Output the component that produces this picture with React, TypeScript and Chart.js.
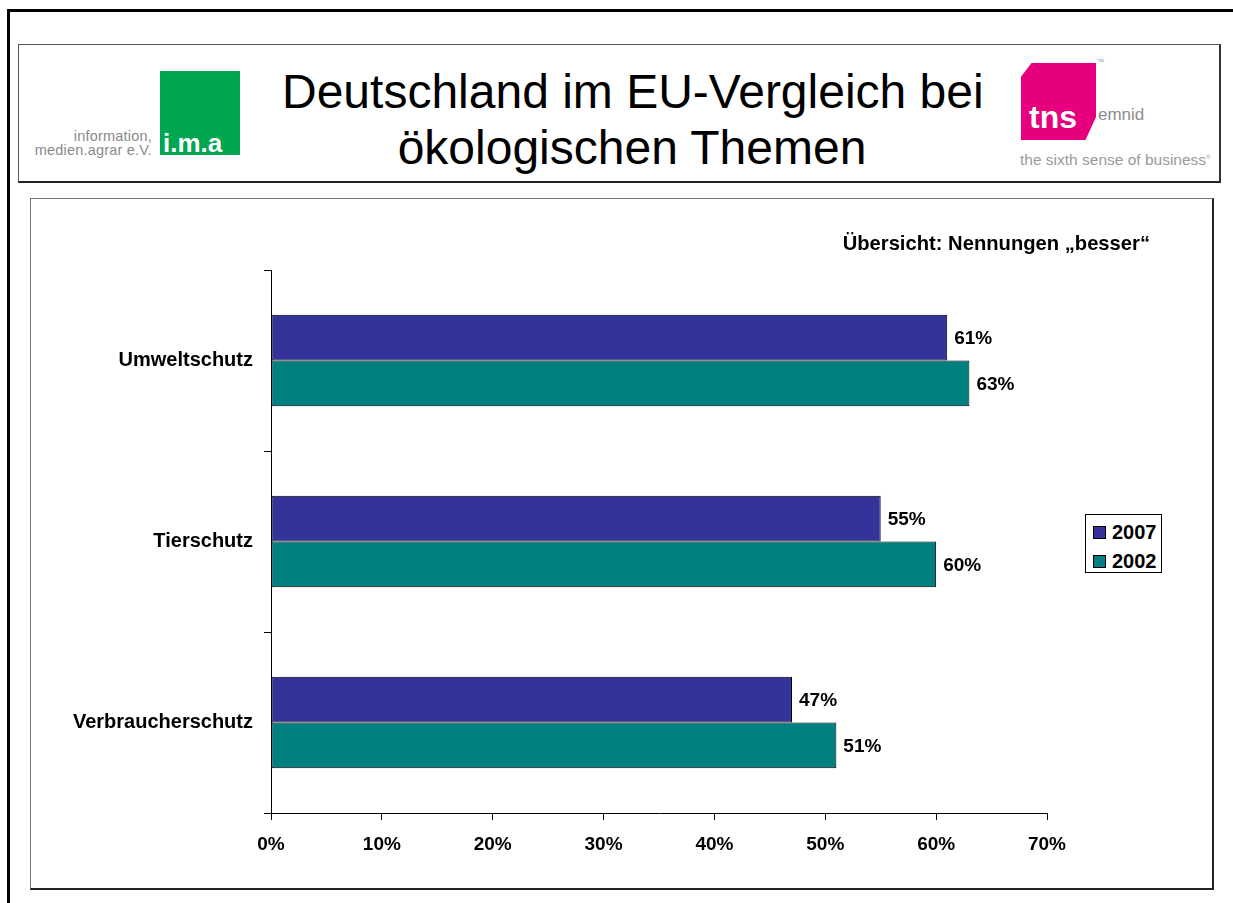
import React, { useEffect, useRef } from "react";
import { Chart, registerables } from "chart.js";

Chart.register(...registerables);

const categories = ["Umweltschutz", "Tierschutz", "Verbraucherschutz"];
const seriesNames = ["2007", "2002"];
const values2007 = [61, 55, 47];
const values2002 = [63, 60, 51];
const seriesColors = ["#333399", "#008080"];
const xTicks = [0, 10, 20, 30, 40, 50, 60, 70];
const titleLines = ["Deutschland im EU-Vergleich bei", "ökologischen Themen"];
const annotation = "Übersicht: Nennungen „besser“";

const FONT = "Arial, 'Liberation Sans', Helvetica, sans-serif";
const LABEL_SIZE = 19;
const CAT_SIZE = 20;

const valueLabels = {
  id: "valueLabels",
  afterDatasetsDraw(chart: any) {
    const ctx = chart.ctx;
    ctx.save();
    ctx.font = `bold ${LABEL_SIZE}px ${FONT}`;
    ctx.fillStyle = "#000";
    ctx.textAlign = "left";
    ctx.textBaseline = "middle";
    chart.data.datasets.forEach((ds: any, di: number) => {
      const meta = chart.getDatasetMeta(di);
      meta.data.forEach((bar: any, i: number) => {
        ctx.fillText(`${ds.data[i]}%`, bar.x + 7, bar.y + 1);
      });
    });
    ctx.restore();
  },
};

function BarChart() {
  const ref = useRef<HTMLCanvasElement | null>(null);
  useEffect(() => {
    if (!ref.current) return;
    const chart = new Chart(ref.current, {
      type: "bar",
      data: {
        labels: categories,
        datasets: [
          {
            label: seriesNames[0],
            data: values2007,
            backgroundColor: seriesColors[0],
            borderColor: "#000",
            borderWidth: 1,
            borderSkipped: false,
            categoryPercentage: 0.505,
            barPercentage: 1.0,
          },
          {
            label: seriesNames[1],
            data: values2002,
            backgroundColor: seriesColors[1],
            borderColor: "#000",
            borderWidth: 1,
            borderSkipped: false,
            categoryPercentage: 0.505,
            barPercentage: 1.0,
          },
        ],
      },
      options: {
        indexAxis: "y",
        responsive: false,
        animation: false,
        devicePixelRatio: 1,
        layout: { padding: { top: 70, right: 164, left: 0, bottom: 0 } },
        plugins: {
          legend: { display: false },
          tooltip: { enabled: false },
          title: { display: false },
        },
        scales: {
          x: {
            type: "linear",
            min: xTicks[0],
            max: xTicks[xTicks.length - 1],
            afterFit(scale: any) {
              scale.height = 75;
            },
            afterBuildTicks(scale: any) {
              scale.ticks = xTicks.map((v) => ({ value: v }));
            },
            ticks: {
              stepSize: 10,
              callback: (v: any) => `${v}%`,
              color: "#000",
              font: { family: FONT, size: LABEL_SIZE, weight: "bold" },
              padding: 13,
              maxRotation: 0,
            },
            grid: {
              drawOnChartArea: false,
              drawTicks: true,
              tickLength: 7,
              color: "#000",
            },
            border: { display: true, color: "#000", width: 1 },
          },
          y: {
            type: "category",
            offset: true,
            afterFit(scale: any) {
              scale.width = 240;
            },
            ticks: {
              color: "#000",
              font: { family: FONT, size: CAT_SIZE, weight: "bold" },
              padding: 11,
            },
            grid: {
              offset: true,
              drawOnChartArea: false,
              drawTicks: true,
              tickLength: 7,
              color: "#000",
            },
            border: { display: true, color: "#000", width: 1 },
          },
        },
      },
      plugins: [valueLabels],
    } as any);
    return () => chart.destroy();
  }, []);
  return (
    <canvas
      ref={ref}
      width={1180}
      height={688}
      style={{ position: "absolute", left: 31, top: 200, width: 1180, height: 688 }}
    />
  );
}

export default function App() {
  return (
    <div
      style={{
        position: "absolute",
        left: 0,
        top: 0,
        width: 1233,
        height: 903,
        background: "#fff",
        overflow: "hidden",
        fontFamily: FONT,
      }}
    >
      {/* outer frame */}
      <div style={{ position: "absolute", left: 7, top: 9, width: 1240, height: 1000, borderLeft: "3px solid #000", borderTop: "3px solid #000" }} />
      {/* header box */}
      <div
        style={{
          position: "absolute",
          left: 18,
          top: 44,
          width: 1200,
          height: 136,
          borderTop: "1px solid #555",
          borderLeft: "1px solid #555",
          borderRight: "2px solid #333",
          borderBottom: "2px solid #222",
        }}
      />
      {/* ima logo */}
      <div style={{ position: "absolute", left: 10, width: 142, top: 129, textAlign: "right", color: "#8a8a8a", fontSize: 14.5, lineHeight: "14px", letterSpacing: 0.2 }}>
        information,
        <br />
        medien.agrar e.V.
      </div>
      <div style={{ position: "absolute", left: 160, top: 71, width: 80, height: 84, background: "#00a650" }}>
        <div style={{ position: "absolute", left: 3, top: 60, color: "#fff", fontSize: 26, fontWeight: "bold", lineHeight: "24px", letterSpacing: 0 }}>i.m.a</div>
      </div>
      {/* title */}
      <div
        style={{
          position: "absolute",
          left: 282,
          width: 700,
          top: 64,
          textAlign: "center",
          fontSize: 48,
          lineHeight: "56px",
          color: "#000",
          whiteSpace: "nowrap",
        }}
      >
        {titleLines[0]}
        <br />
        {titleLines[1]}
      </div>
      {/* tns logo */}
      <div
        style={{
          position: "absolute",
          left: 1021,
          top: 63,
          width: 75,
          height: 77,
          background: "#e6007e",
          clipPath: "polygon(14% 0, 100% 0, 100% 70%, 86% 100%, 0 100%, 0 18%)",
        }}
      />
      <div style={{ position: "absolute", left: 1029, top: 101, color: "#fff", fontSize: 32, fontWeight: "bold", lineHeight: "32px", letterSpacing: 0 }}>tns</div>
      <div style={{ position: "absolute", left: 1098, top: 104, color: "#8c8c8c", fontSize: 17, lineHeight: "22px" }}>emnid</div>
      <div style={{ position: "absolute", left: 1097, top: 58, color: "#999", fontSize: 7, lineHeight: "8px" }}>™</div>
      <div style={{ position: "absolute", left: 1020, top: 148, color: "#9a9a9a", fontSize: 15.5, lineHeight: "18px", whiteSpace: "nowrap" }}>
        the sixth sense of business<sup style={{ fontSize: 6 }}>®</sup>
      </div>
      {/* chart box */}
      <div
        style={{
          position: "absolute",
          left: 30,
          top: 198,
          width: 1181,
          height: 689,
          borderTop: "1px solid #777",
          borderLeft: "1px solid #777",
          borderRight: "2px solid #222",
          borderBottom: "2px solid #222",
        }}
      />
      <BarChart />
      {/* annotation */}
      <div style={{ position: "absolute", left: 760, width: 390, top: 232, textAlign: "right", fontSize: 20.2, fontWeight: "bold", color: "#000", whiteSpace: "nowrap", lineHeight: "22px" }}>
        {annotation}
      </div>
      {/* legend */}
      <div
        style={{
          position: "absolute",
          left: 1085,
          top: 514,
          width: 77,
          height: 59,
          border: "1px solid #000",
          boxSizing: "border-box",
          background: "#fff",
        }}
      >
        {seriesNames.map((name, i) => (
          <div key={name} style={{ position: "absolute", left: 7, top: 6 + i * 29, height: 22, display: "flex", alignItems: "center" }}>
            <div style={{ width: 11, height: 11, background: seriesColors[i], border: "1px solid #000", marginRight: 6 }} />
            <span style={{ fontSize: 20, fontWeight: "bold", color: "#000", lineHeight: "22px" }}>{name}</span>
          </div>
        ))}
      </div>
    </div>
  );
}
